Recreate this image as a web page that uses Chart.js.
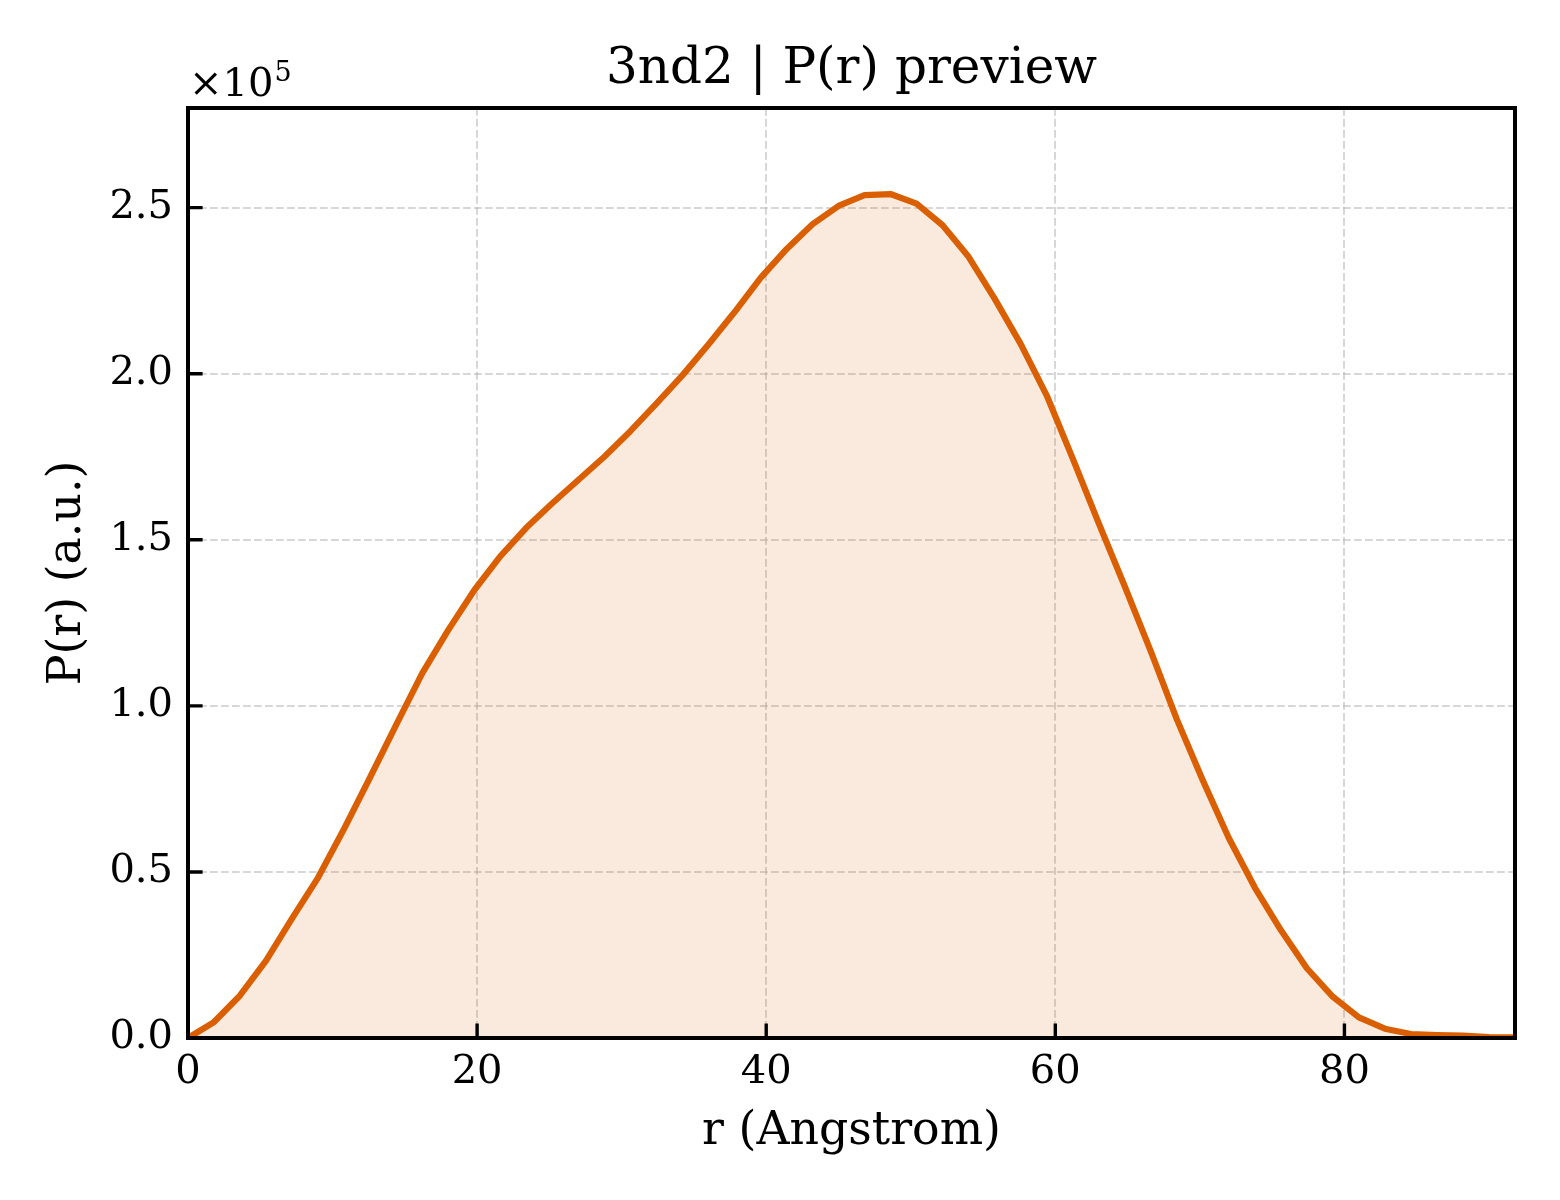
<!DOCTYPE html>
<html lang="en">
<head>
  <meta charset="UTF-8">
  <title>3nd2 | P(r) preview</title>
  <script src="https://cdn.jsdelivr.net/npm/chart.js"></script>
  <style>
    html, body { margin: 0; padding: 0; background: #fff; }
    canvas { display: block; }
  </style>
</head>
<body>
  <canvas id="prChart" width="1560" height="1200" style="width:1560px;height:1200px"></canvas>

  <script>
    // r in Angstrom, P(r) in a.u.
    const rValues = [0, 1.8, 3.6, 5.4, 7.2, 9.0, 10.8, 12.6, 14.4, 16.2, 18.0, 19.8, 21.6,
      23.4, 25.2, 27.0, 28.8, 30.6, 32.4, 34.2, 36.0, 37.8, 39.6, 41.4, 43.2, 45.0,
      46.8, 48.6, 50.4, 52.2, 54.0, 55.8, 57.6, 59.4, 61.2, 63.0, 64.8, 66.6, 68.4,
      70.2, 72.0, 73.8, 75.6, 77.4, 79.2, 81.0, 82.8, 84.6, 86.4, 88.2, 90.0, 91.8];
    const pValues = [0, 4800, 12800, 23300, 36000, 48300, 63000, 78500, 94300, 109800, 122800, 134800, 145000,
      153600, 161000, 168000, 175000, 182700, 191000, 199500, 208800, 218500, 228800, 237500, 245000, 250500,
      253800, 254100, 251200, 244700, 235200, 222600, 209000, 193500, 174500, 155000, 136000, 116500, 96000,
      77600, 60200, 45300, 32500, 21000, 12400, 6200, 2800, 1200, 900, 700, 300, 200];

    const xTickValues = [0, 20, 40, 60, 80];
    const yTickValues = [0, 50000, 100000, 150000, 200000, 250000];
    const yExponent = 5;          // offset label "x10^5"
    const xMax = 91.8;
    const yMax = 280000;

    const serif = '"DejaVu Serif", "Liberation Serif", serif';
    const lineColor = '#d95f02';

    // matplotlib-like frame, inward ticks and offset text
    const axesDecor = {
      id: 'axesDecor',
      afterDraw(chart) {
        const { ctx, chartArea: a, scales: { x, y } } = chart;
        ctx.save();
        ctx.strokeStyle = '#000';
        ctx.lineWidth = 3.4;
        ctx.beginPath();
        x.ticks.forEach(t => {
          const px = x.getPixelForValue(t.value);
          ctx.moveTo(px, a.bottom);
          ctx.lineTo(px, a.bottom - 14.6);
        });
        y.ticks.forEach(t => {
          const py = y.getPixelForValue(t.value);
          ctx.moveTo(a.left, py);
          ctx.lineTo(a.left + 14.6, py);
        });
        ctx.stroke();
        ctx.lineWidth = 4;
        ctx.strokeRect(a.left, a.top, a.right - a.left, a.bottom - a.top);

        ctx.fillStyle = '#000';
        ctx.textBaseline = 'alphabetic';
        ctx.textAlign = 'left';
        ctx.font = '40px ' + serif;
        ctx.fillText('\u00d710', a.left + 1, a.top - 12);
        const w = ctx.measureText('\u00d710').width;
        ctx.font = '27px ' + serif;
        ctx.fillText(String(yExponent), a.left + 2 + w, a.top - 27);
        ctx.restore();
      }
    };

    const ctx = document.getElementById('prChart').getContext('2d');
    const prChart = new Chart(ctx, {
      type: 'line',
      data: {
        datasets: [{
          label: 'P(r)',
          data: rValues.map((r, i) => ({ x: r, y: pValues[i] })),
          borderColor: lineColor,
          borderWidth: 6.25,
          borderJoinStyle: 'round',
          backgroundColor: 'rgba(217, 95, 2, 0.13)',
          fill: 'origin',
          pointRadius: 0,
          tension: 0,
          clip: 0
        }]
      },
      options: {
        responsive: false,
        devicePixelRatio: 1,
        animation: false,
        layout: { padding: { left: 0, right: 45, top: 0, bottom: 0 } },
        plugins: {
          legend: { display: false },
          tooltip: { enabled: false },
          title: {
            display: true,
            text: '3nd2 | P(r) preview',
            fullSize: false,
            color: '#000',
            font: { family: serif, size: 50, weight: 'normal' },
            padding: { top: 40, bottom: 8 }
          }
        },
        scales: {
          x: {
            type: 'linear',
            min: 0,
            max: xMax,
            afterBuildTicks: s => { s.ticks = xTickValues.map(v => ({ value: v })); },
            afterFit: s => { s.height = 162; },
            ticks: {
              color: '#000',
              padding: 11,
              maxRotation: 0,
              font: { family: serif, size: 40 }
            },
            grid: { color: 'rgba(176,176,176,0.5)', lineWidth: 2, drawTicks: false },
            border: { display: false, dash: [7.7, 3.3] },
            title: {
              display: true,
              text: 'r (Angstrom)',
              color: '#000',
              font: { family: serif, size: 45.8 },
              padding: { top: 0, bottom: 40 }
            }
          },
          y: {
            type: 'linear',
            min: 0,
            max: yMax,
            afterBuildTicks: s => { s.ticks = yTickValues.map(v => ({ value: v })); },
            afterFit: s => { s.width = 188; },
            ticks: {
              color: '#000',
              padding: 15,
              font: { family: serif, size: 40 },
              callback: v => (v / Math.pow(10, yExponent)).toFixed(1)
            },
            grid: { color: 'rgba(176,176,176,0.5)', lineWidth: 2, drawTicks: false },
            border: { display: false, dash: [7.7, 3.3] },
            title: {
              display: true,
              text: 'P(r) (a.u.)',
              color: '#000',
              font: { family: serif, size: 45.8 },
              padding: { top: 41, bottom: 0 }
            }
          }
        }
      },
      plugins: [axesDecor]
    });
  </script>
</body>
</html>
